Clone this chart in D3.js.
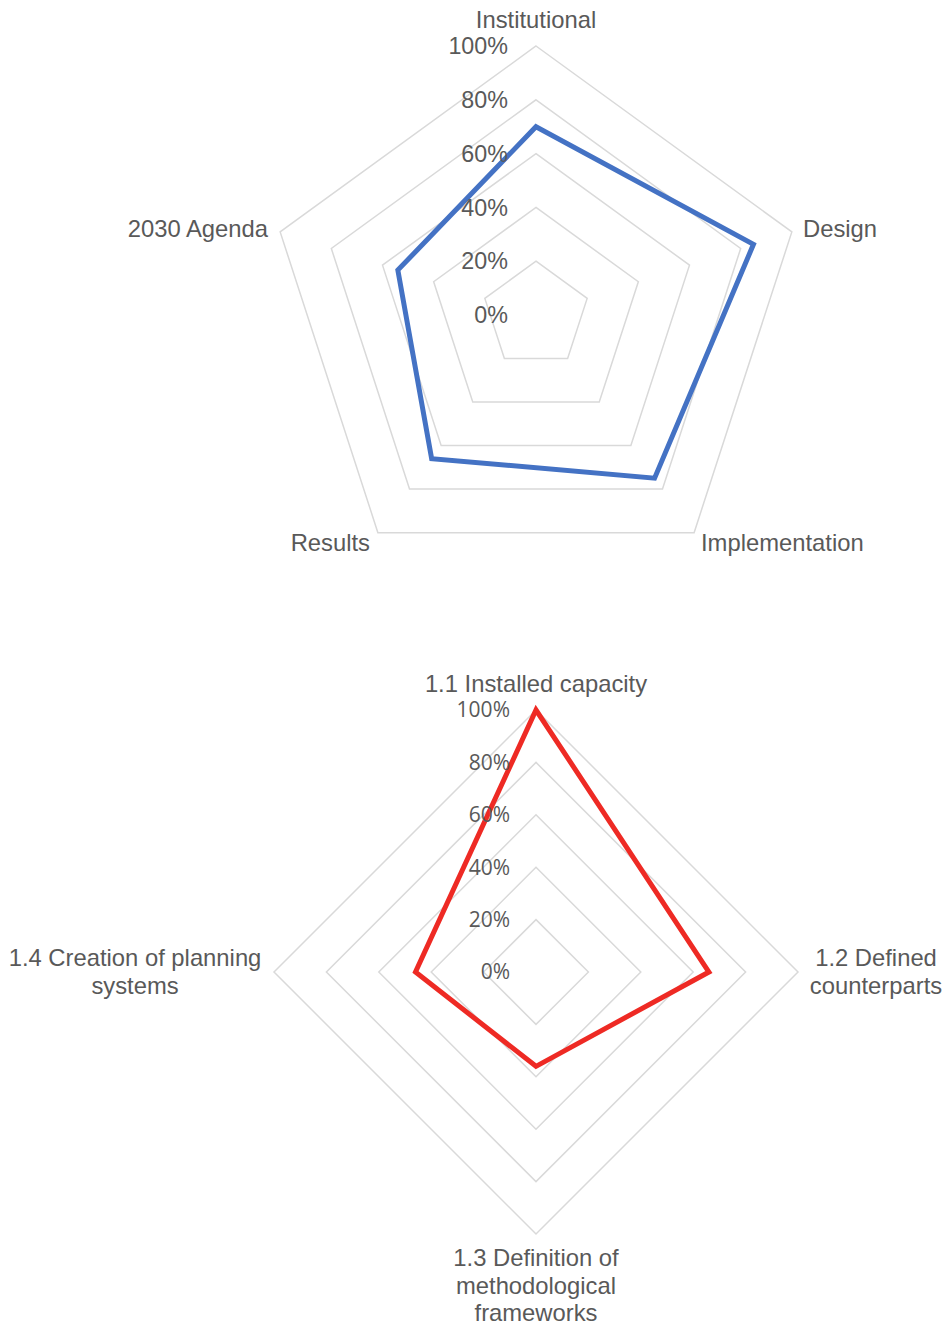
<!DOCTYPE html>
<head>
  <meta charset="utf-8">
  <style>
    body { margin:0; background:#fff; }
    text { fill:#595959; font-family:"Liberation Sans", Arial, sans-serif; }
    .axisLabel { font-size:23.8px; }
    .tick1 { font-size:23.3px; }
    .tick2 { font-size:21px; font-family:"Open Sans", sans-serif; }
  </style>
</head>
<body>
<script src="https://d3js.org/d3.v7.min.js"></script>
<script>

  // DATA
  const axes1 = ["Institutional", "Design", "Implementation", "Results", "2030 Agenda"];
  const values1 = [0.70, 0.85, 0.75, 0.66, 0.54];

  const axes2 = [["1.1 Installed capacity"], ["1.2 Defined", "counterparts"],
                 ["1.3 Definition of", "methodological", "frameworks"],
                 ["1.4 Creation of planning", "systems"]];
  const values2 = [1.00, 0.66, 0.36, 0.46];

  const ticks = [0, 0.2, 0.4, 0.6, 0.8, 1.0];

  const width = 946, height = 1328;

  const svg = d3.select("body").append("svg")
    .attr("width", width)
    .attr("height", height);

  // RADAR
  function radar(opts) {
    const n = opts.values.length;
    const r = d3.scaleLinear().domain([0, 1]).range([0, opts.radius]);
    const angle = i => i * 2 * Math.PI / n;
    const pt = (i, v) => [Math.sin(angle(i)) * r(v), -Math.cos(angle(i)) * r(v)];

    const g = svg.append("g")
      .attr("transform", "translate(" + opts.cx + "," + opts.cy + ")");

    const line = d3.line().curve(d3.curveLinearClosed);

    // rings
    g.selectAll("path.ring")
      .data(ticks.filter(t => t > 0))
      .enter().append("path")
        .attr("d", t => line(d3.range(n).map(i => pt(i, t))))
        .attr("fill", "none")
        .attr("stroke", "#d9d9d9")
        .attr("stroke-width", 1.5);

    // series
    g.append("path")
      .attr("d", line(opts.values.map((v, i) => pt(i, v))))
      .attr("fill", "none")
      .attr("stroke", opts.color)
      .attr("stroke-width", 5)
      .attr("stroke-linejoin", "miter");

    // tick labels
    g.selectAll("text.tick")
      .data(ticks)
      .enter().append("text")
        .attr("class", opts.tickClass)
        .attr("x", opts.tickX)
        .attr("y", t => -r(t))
        .attr("dy", "0.35em")
        .attr("text-anchor", "end")
        .text(d3.format(".0%"));

    // axis labels
    opts.labels.forEach((lines, i) => {
      const p = opts.labelPos[i];
      const t = g.append("text")
        .attr("class", "axisLabel")
        .attr("text-anchor", p[2]);
      lines.forEach((s, k) => {
        t.append("tspan")
          .attr("x", p[0])
          .attr("y", p[1] + k * 27.5)
          .attr("dy", "0.35em")
          .text(s);
      });
    });
  }

  radar({
    cx: 536, cy: 315, radius: 269,
    values: values1, color: "#4472c4",
    labels: axes1.map(d => [d]),
    labelPos: [[0, -295, "middle"], [267, -86, "start"], [165, 228, "start"],
               [-166, 228, "end"], [-268, -86, "end"]],
    tickClass: "tick1", tickX: -28
  });

  radar({
    cx: 536, cy: 972, radius: 262,
    values: values2, color: "#ee2a24",
    labels: axes2,
    labelPos: [[0, -288, "middle"], [340, -14, "middle"], [0, 286, "middle"],
               [-401, -14, "middle"]],
    tickClass: "tick2", tickX: -26
  });

</script>
</body>
